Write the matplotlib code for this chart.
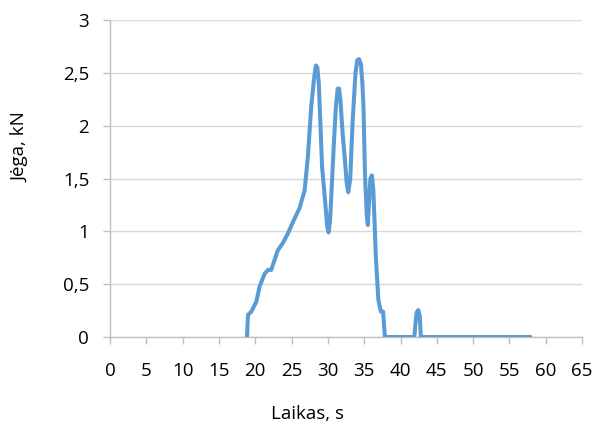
import matplotlib
matplotlib.use("Agg")
import matplotlib.pyplot as plt
from matplotlib.ticker import FuncFormatter

# laikas (s) ir jėga (kN), nuskaityta nuo grafiko
laikas = [18.86, 19.0, 19.46, 20.15, 20.6, 21.3, 21.75, 22.2, 22.66, 23.1, 23.8,
          24.5, 25.2, 26.1, 26.8, 27.25, 27.7, 28.1, 28.35, 28.55, 28.75, 28.95,
          29.2, 29.6, 29.9, 30.1, 30.3, 30.55, 30.8, 31.1, 31.35, 31.55, 31.75,
          32.0, 32.3, 32.6, 32.8, 33.07, 33.4, 33.8, 34.05, 34.3, 34.55, 34.75,
          34.9, 35.1, 35.35, 35.5, 35.65, 35.85, 36.05, 36.25, 36.45, 36.6,
          36.95, 37.3, 37.6, 37.85, 41.9, 42.2, 42.45, 42.65, 42.8, 57.9]
jega = [0.0, 0.21, 0.24, 0.335, 0.48, 0.60, 0.635, 0.635, 0.73, 0.82, 0.89,
        0.98, 1.09, 1.22, 1.39, 1.71, 2.18, 2.45, 2.57, 2.55, 2.40, 2.05,
        1.61, 1.30, 1.05, 0.99, 1.10, 1.45, 1.80, 2.18, 2.35, 2.35, 2.22,
        1.95, 1.71, 1.45, 1.37, 1.49, 2.03, 2.50, 2.62, 2.63, 2.58, 2.40,
        2.18, 1.55, 1.15, 1.06, 1.25, 1.50, 1.53, 1.40, 1.05, 0.76,
        0.35, 0.24, 0.24, 0.0, 0.0, 0.23, 0.255, 0.2, 0.0, 0.0]

x_ticks = list(range(0, 70, 5))
y_ticks = [0, 0.5, 1, 1.5, 2, 2.5, 3]

plt.rcParams["font.family"] = ["Open Sans", "DejaVu Sans"]

fig = plt.figure(figsize=(5.97, 4.25), dpi=100)
ax = fig.add_axes([0.1843, 0.207, 0.7907, 0.746])

ax.plot(laikas, jega, color="#5B9BD5", linewidth=2.9, solid_joinstyle="round",
        solid_capstyle="round", zorder=3)

ax.set_xlim(0, 65)
ax.set_ylim(0, 3)
ax.set_xticks(x_ticks)
ax.set_yticks(y_ticks)
ax.yaxis.set_major_formatter(FuncFormatter(lambda v, p: f"{v:g}".replace(".", ",")))

ax.grid(axis="y", color="#D9D9D9", linewidth=1.0)
ax.set_axisbelow(True)
for s in ["top", "right"]:
    ax.spines[s].set_visible(False)
for s in ["left", "bottom"]:
    ax.spines[s].set_color("#BFBFBF")
    ax.spines[s].set_linewidth(1.0)
ax.tick_params(axis="both", colors="#BFBFBF", length=5, width=1.0,
               labelcolor="black", labelsize=13.5)
ax.tick_params(axis="x", pad=13)
ax.tick_params(axis="y", pad=10)

ax.set_xlabel("Laikas, s", fontsize=13.5, va="center")
ax.xaxis.set_label_coords(0.418, -0.243)
ax.set_ylabel("Jėga, kN", fontsize=13.5, va="center")
ax.yaxis.set_label_coords(-0.19, 0.60)

fig.savefig("out.png", dpi=100)
